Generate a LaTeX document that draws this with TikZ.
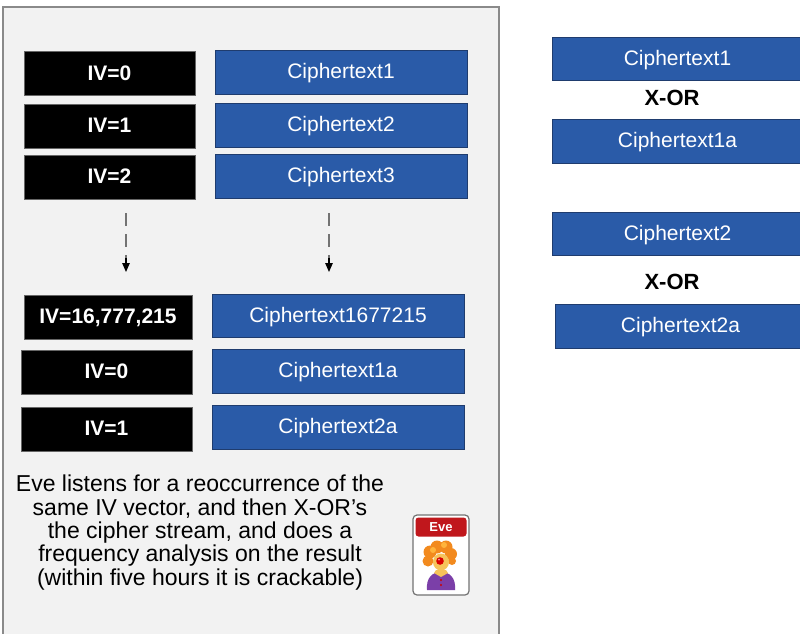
\documentclass[tikz,border=0pt]{standalone}
\usepackage{fontspec}
\setmainfont{Liberation Sans}
\usetikzlibrary{arrows.meta}
\definecolor{panelfill}{HTML}{F2F2F2}
\definecolor{panelline}{HTML}{8A8A8A}
\definecolor{cblue}{HTML}{2A5BA8}
\definecolor{cblueline}{HTML}{1F3C6E}
\definecolor{evered}{HTML}{C0171C}
\definecolor{hair}{HTML}{F28A1E}
\definecolor{hairlight}{HTML}{FFB43C}
\definecolor{skin}{HTML}{F6C35A}
\definecolor{suit}{HTML}{7B3FA8}
\begin{document}
\begin{tikzpicture}[x=1pt,y=-1pt,
  ivbox/.style={rectangle, fill=black, draw=black!60, line width=0.6pt, text=white,
    font=\fontsize{21}{25}\selectfont\bfseries, inner sep=0pt,
    text height=15pt, text depth=1.5pt,
    minimum width=171pt, minimum height=44pt},
  ctbox/.style={rectangle, fill=cblue, draw=cblueline, line width=0.8pt, text=white,
    font=\fontsize{21}{25}\selectfont, inner sep=0pt,
    text height=15pt, text depth=1.5pt,
    minimum width=252pt, minimum height=44pt},
  xorlabel/.style={font=\fontsize{22}{26}\selectfont\bfseries, inner sep=0pt},
  dashline/.style={draw=black!55, line width=1.2pt, dash pattern=on 13pt off 8pt},
  tipline/.style={draw=black, line width=1.2pt, -{Triangle[length=9pt,width=7.5pt]}}
]
\useasboundingbox (0,0) rectangle (800,633);

% grey panel on the left
\draw[fill=panelfill, draw=panelline, line width=1.8pt] (3,7) rectangle (499,645);

% first rows
\node[ivbox] (iv0) at (109.5,73.5) {IV=0};
\node[ctbox] (ct1) at (341,72) {Ciphertext1};
\node[ivbox] (iv1) at (109.5,126) {IV=1};
\node[ctbox] (ct2) at (341,125) {Ciphertext2};
\node[ivbox] (iv2) at (109.5,177) {IV=2};
\node[ctbox] (ct3) at (341,176) {Ciphertext3};

% continuation arrows
\coordinate (la) at (126,213);
\coordinate (lb) at (126,258);
\coordinate (lc) at (126,272);
\coordinate (ra) at (329,213);
\coordinate (rb) at (329,258);
\coordinate (rc) at (329,272);
\draw[dashline] (la) -- (lb);
\draw[tipline] (lb) -- (lc);
\draw[dashline] (ra) -- (rb);
\draw[tipline] (rb) -- (rc);

% last rows and repeated IVs
\node[ivbox, minimum width=168pt] (ivmax) at (108,317) {IV=16,777,215};
\node[ctbox, minimum height=43pt] (ctmax) at (338,315.5) {Ciphertext1677215};
\node[ivbox] (iv0b) at (106.5,372) {IV=0};
\node[ctbox] (ct1a) at (338,371) {Ciphertext1a};
\node[ivbox] (iv1b) at (106.5,429) {IV=1};
\node[ctbox] (ct2a) at (338,427) {Ciphertext2a};

% explanation
\node[align=center, inner sep=0pt, font=\fontsize{23}{23.3}\selectfont] (note) at (200,532.5)
  {Eve listens for a reoccurrence of the\\
   same IV vector, and then X-OR’s\\
   the cipher stream, and does a\\
   frequency analysis on the result\\
   (within five hours it is crackable)};

% Eve card
\draw[fill=white, draw=black!55, line width=1.2pt, rounded corners=4pt] (413,515) rectangle (469,595);
\node[fill=evered, rounded corners=3pt, minimum width=51pt, minimum height=19pt, inner sep=0pt,
  text=white, font=\fontsize{13}{15}\selectfont\bfseries] (evetag) at (441,527) {Eve};
% clown figure
\fill[suit] (427,590) .. controls (426,578) and (432,572) .. (441,572)
  .. controls (450,572) and (456,578) .. (455,590) -- cycle;
\fill[skin] (434,573) -- (441,577) -- (448,573) -- (446,570) -- (436,570) -- cycle;
\fill[red!80!black] (441,580) circle (1.2);
\fill[red!80!black] (441,585) circle (1.2);
\fill[hair] (430,552) circle (6.5);
\fill[hair] (437,547) circle (6.5);
\fill[hair] (446,547) circle (6.5);
\fill[hair] (451,554) circle (6);
\fill[hair] (428,561) circle (5.5);
\fill[hair] (452,561) circle (4);
\fill[hairlight] (433,550) circle (3);
\fill[hairlight] (444,545) circle (3);
\fill[skin] (441,562) ellipse (8 and 8.5);
\fill[red!85!black] (440,561) circle (3.8);
\fill[white, opacity=0.6] (439,559.6) circle (1);

% right column: X-OR of ciphertexts sharing an IV
\node[ctbox, minimum width=251pt, minimum height=43pt] (r1) at (677.5,58.5) {Ciphertext1};
\node[xorlabel] (x1) at (672,98) {X-OR};
\node[ctbox, minimum width=251pt] (r1a) at (677.5,141) {Ciphertext1a};
\node[ctbox, minimum width=251pt, minimum height=43pt] (r2) at (677.5,233.5) {Ciphertext2};
\node[xorlabel] (x2) at (672,282) {X-OR};
\node[ctbox, minimum width=251pt] (r2a) at (680.5,326) {Ciphertext2a};
\end{tikzpicture}
\end{document}
